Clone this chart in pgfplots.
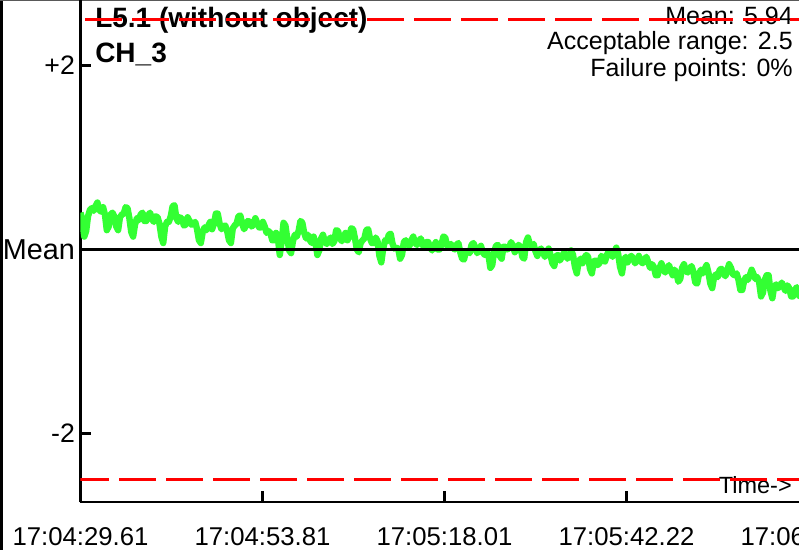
\documentclass[border=0pt]{standalone}
\usepackage{pgfplots}
\pgfplotsset{compat=1.18}
\usepackage{fontspec}
\setmainfont{Liberation Sans}
\definecolor{limeline}{RGB}{51,255,51}
\definecolor{limitred}{RGB}{255,0,0}
\begin{document}
\begin{tikzpicture}[x=0.75pt,y=0.75pt]
\useasboundingbox (0,0) rectangle (799,550);
\clip (0,0) rectangle (799,550);
\fill[white] (0,0) rectangle (799,550);
\fill[black] (0,0) rectangle (3,550);
\draw[black!65, line width=0.9pt] (0,549.4) -- (799,549.4);
% texts (drawn before the axis so the dashed limits pass over them)
\node[anchor=base west, inner sep=0pt, font=\fontsize{21}{25}\selectfont\bfseries] at (95,522) {L5.1 (without object)};
\node[anchor=base west, inner sep=0pt, font=\fontsize{21}{25}\selectfont\bfseries] at (95,487) {CH\_3};
\node[anchor=base east, inner sep=0pt, font=\fontsize{18.75}{22}\selectfont] at (793,525) {Mean: 5.94};
\node[anchor=base east, inner sep=0pt, font=\fontsize{18.75}{22}\selectfont] at (793,500) {Acceptable range: 2.5};
\node[anchor=base east, inner sep=0pt, font=\fontsize{18.75}{22}\selectfont] at (793,473) {Failure points: 0\%};
\node[anchor=base east, inner sep=0pt, font=\fontsize{17.6}{21}\selectfont] at (792,57) {Time->};
\begin{axis}[
  at={(60.375pt,36pt)}, anchor=south west,
  scale only axis, width=564pt, height=376.5pt,
  xmin=0, xmax=100, ymin=-2.745, ymax=2.712,
  axis x line=bottom, axis y line=left,
  axis line style={-, line width=2pt, black},
  tick align=inside, major tick length=8pt,
  every tick/.style={line width=2pt, black},
  xtick={0,24.2,48.4,72.61,96.81},
  xticklabels={17:04:29.61,17:04:53.81,17:05:18.01,17:05:42.22,17:06:06.42},
  ytick={-2,0,2},
  yticklabels={{\fontsize{20}{24}\selectfont -2},{\fontsize{21.6}{26}\selectfont Mean},{\fontsize{20}{24}\selectfont +2}},
  x tick label style={anchor=base, yshift=-32.8pt, inner sep=0pt, font=\fontsize{19.3}{23}\selectfont},
  y tick label style={anchor=east, inner sep=0pt, xshift=-4pt},
  unbounded coords=jump,
  clip=true,
]
\addplot[color=limeline, line width=4.8pt, line join=round] coordinates {
(0,0.40) (0.25,0.32) (0.5,0.14) (0.75,0.20) (1,0.36) (1.25,0.43) (1.5,0.45) (1.75,0.42)
(2,0.47) (2.25,0.51) (2.5,0.43) (2.75,0.41) (3,0.46) (3.25,0.38) (3.5,0.21) (3.75,0.25)
(4,0.38) (4.25,0.40) (4.5,0.36) (4.75,0.25) (5,0.21) (5.25,0.35) (5.5,0.38) (5.75,0.39)
(6,0.46) (6.25,0.45) (6.5,0.34) (6.75,0.19) (7,0.14) (7.25,0.27) (7.5,0.34) (7.75,0.32)
(8,0.38) (8.25,0.40) (8.5,0.31) (8.75,0.31) (9,0.37) (9.25,0.40) (9.5,0.33) (9.75,0.30)
(10,0.36) (10.25,0.35) (10.5,0.28) (10.75,0.14) (11,0.07) (11.25,0.25) (11.5,0.30) (11.75,0.30)
(12,0.36) (12.25,0.47) (12.5,0.48) (12.75,0.34) (13,0.30) (13.25,0.35) (13.5,0.33) (13.75,0.26)
(14,0.27) (14.25,0.35) (14.5,0.31) (14.75,0.27) (15,0.28) (15.25,0.30) (15.5,0.22) (15.75,0.10)
(16,0.07) (16.25,0.19) (16.5,0.24) (16.75,0.21) (17,0.26) (17.25,0.30) (17.5,0.22) (17.75,0.28)
(18,0.39) (18.25,0.39) (18.5,0.28) (18.75,0.22) (19,0.25) (19.25,0.26) (19.5,0.20) (19.75,0.10)
(20,0.07) (20.25,0.23) (20.5,0.26) (20.75,0.28) (21,0.36) (21.25,0.37) (21.5,0.28) (21.75,0.22)
(22,0.26) (22.25,0.31) (22.5,0.30) (22.75,0.25) (23,0.27) (23.25,0.34) (23.5,0.29) (23.75,0.24)
(24,0.24) (24.25,0.30) (24.5,0.25) (24.75,0.18) (25,0.20) (25.25,0.18) (25.5,0.10) (25.75,0.10)
(26,0.18) (26.25,0.12) (26.5,-0.06) (26.75,0.09) (27,0.29) (27.25,0.26) (27.5,0.12) (27.75,-0.01)
(28,-0.04) (28.25,0.09) (28.5,0.16) (28.75,0.14) (29,0.20) (29.25,0.31) (29.5,0.29) (29.75,0.18)
(30,0.12) (30.25,0.16) (30.5,0.10) (30.75,0.07) (31,0.14) (31.25,0.07) (31.5,-0.06) (31.75,-0.01)
(32,0.12) (32.25,0.16) (32.5,0.08) (32.75,0.06) (33,0.10) (33.25,0.13) (33.5,0.06) (33.75,0.09)
(34,0.21) (34.25,0.20) (34.5,0.12) (34.75,0.09) (35,0.14) (35.25,0.18) (35.5,0.10) (35.75,0.14)
(36,0.23) (36.25,0.22) (36.5,0.12) (36.75,0.00) (37,-0.03) (37.25,0.07) (37.5,0.10) (37.75,0.12)
(38,0.21) (38.25,0.22) (38.5,0.12) (38.75,0.07) (39,0.07) (39.25,0.13) (39.5,0.09) (39.75,-0.07)
(40,-0.14) (40.25,0.01) (40.5,0.10) (40.75,0.09) (41,0.16) (41.25,0.17) (41.5,0.06) (41.75,0.01)
(42,0.02) (42.25,0.01) (42.5,-0.10) (42.75,-0.06) (43,0.08) (43.25,0.10) (43.5,0.06) (43.75,0.04)
(44,0.10) (44.25,0.14) (44.5,0.07) (44.75,0.05) (45,0.09) (45.25,0.12) (45.5,0.05) (45.75,0.02)
(46,0.08) (46.25,0.08) (46.5,0.02) (46.75,-0.01) (47,0.04) (47.25,0.08) (47.5,0.00) (47.75,0.00)
(48,0.05) (48.25,0.14) (48.5,0.13) (48.75,0.04) (49,0.04) (49.25,0.06) (49.5,0.02) (49.75,0.00)
(50,0.05) (50.25,0.07) (50.5,-0.03) (50.75,-0.10) (51,-0.11) (51.25,-0.02) (51.5,-0.02) (51.75,-0.04)
(52,0.05) (52.25,0.07) (52.5,0.02) (52.75,-0.04) (53,-0.01) (53.25,0.04) (53.5,-0.03) (53.75,-0.06)
(54,-0.02) (54.25,-0.06) (54.5,-0.20) (54.75,-0.17) (55,-0.03) (55.25,0.04) (55.5,0.05) (55.75,-0.07)
(56,-0.10) (56.25,0.03) (56.5,0.03) (56.75,0.00) (57,0.02) (57.25,0.08) (57.5,0.04) (57.75,-0.03)
(58,0.01) (58.25,0.05) (58.5,0.03) (58.75,-0.08) (59,-0.10) (59.25,0.08) (59.5,0.13) (59.75,0.06)
(60,0.04) (60.25,0.06) (60.5,-0.02) (60.75,-0.07) (61,-0.01) (61.25,0.01) (61.5,-0.03) (61.75,-0.08)
(62,-0.04) (62.25,0.01) (62.5,-0.06) (62.75,-0.15) (63,-0.18) (63.25,-0.07) (63.5,-0.06) (63.75,-0.12)
(64,-0.08) (64.25,-0.04) (64.5,-0.05) (64.75,-0.10) (65,-0.07) (65.25,-0.01) (65.5,-0.06) (65.75,-0.19)
(66,-0.26) (66.25,-0.13) (66.5,-0.10) (66.75,-0.15) (67,-0.09) (67.25,-0.06) (67.5,-0.08) (67.75,-0.21)
(68,-0.26) (68.25,-0.13) (68.5,-0.12) (68.75,-0.17) (69,-0.15) (69.25,-0.07) (69.5,-0.09) (69.75,-0.13)
(70,-0.06) (70.25,-0.02) (70.5,-0.04) (70.75,-0.08) (71,-0.03) (71.25,0.02) (71.5,-0.05) (71.75,-0.19)
(72,-0.26) (72.25,-0.12) (72.5,-0.08) (72.75,-0.14) (73,-0.09) (73.25,-0.07) (73.5,-0.10) (73.75,-0.15)
(74,-0.12) (74.25,-0.07) (74.5,-0.13) (74.75,-0.15) (75,-0.11) (75.25,-0.08) (75.5,-0.14) (75.75,-0.20)
(76,-0.16) (76.25,-0.19) (76.5,-0.28) (76.75,-0.28) (77,-0.20) (77.25,-0.15) (77.5,-0.22) (77.75,-0.25)
(78,-0.21) (78.25,-0.17) (78.5,-0.23) (78.75,-0.28) (79,-0.22) (79.25,-0.26) (79.5,-0.35) (79.75,-0.32)
(80,-0.20) (80.25,-0.16) (80.5,-0.23) (80.75,-0.25) (81,-0.21) (81.25,-0.18) (81.5,-0.24) (81.75,-0.36)
(82,-0.37) (82.25,-0.27) (82.5,-0.22) (82.75,-0.26) (83,-0.21) (83.25,-0.17) (83.5,-0.25) (83.75,-0.37)
(84,-0.42) (84.25,-0.30) (84.5,-0.27) (84.75,-0.30) (85,-0.22) (85.25,-0.21) (85.5,-0.26) (85.75,-0.29)
(86,-0.23) (86.25,-0.16) (86.5,-0.20) (86.75,-0.27) (87,-0.28) (87.25,-0.26) (87.5,-0.33) (87.75,-0.44)
(88,-0.44) (88.25,-0.34) (88.5,-0.30) (88.75,-0.33) (89,-0.28) (89.25,-0.22) (89.5,-0.27) (89.75,-0.32)
(90,-0.30) (90.25,-0.36) (90.5,-0.51) (90.75,-0.47) (91,-0.33) (91.25,-0.28) (91.5,-0.28) (91.75,-0.45)
(92,-0.53) (92.25,-0.40) (92.5,-0.38) (92.75,-0.42) (93,-0.40) (93.25,-0.36) (93.5,-0.41) (93.75,-0.45)
(94,-0.39) (94.25,-0.42) (94.5,-0.51) (94.75,-0.51) (95,-0.44) (95.25,-0.41) (95.5,-0.50) (95.75,-0.51)
(96,-0.47)
};
\addplot[color=black, line width=2.6pt] coordinates {(0,0) (100,0)};
% upper limit (+2.5), drawn as separate dashes
\addplot[color=limitred, line width=1.6pt] coordinates {
(0.6,2.5) (5.5,2.5) (6.2,nan) (6.85,2.5) (11.75,2.5) (12.4,nan) (13.1,2.5) (18.0,2.5) (18.7,nan)
(19.35,2.5) (24.25,2.5) (24.9,nan) (25.6,2.5) (30.5,2.5) (31.2,nan) (31.85,2.5) (36.75,2.5) (37.4,nan)
(38.1,2.5) (43.0,2.5) (43.7,nan) (44.35,2.5) (49.25,2.5) (49.9,nan) (50.6,2.5) (55.5,2.5) (56.2,nan)
(56.85,2.5) (61.75,2.5) (62.4,nan) (63.1,2.5) (68.0,2.5) (68.7,nan) (69.35,2.5) (74.25,2.5) (74.9,nan)
(75.6,2.5) (80.5,2.5) (81.2,nan) (81.85,2.5) (86.75,2.5) (87.4,nan) (88.1,2.5) (93.0,2.5) (93.7,nan)
(94.35,2.5) (99.25,2.5)
};
% lower limit (-2.5), drawn as separate dashes
\addplot[color=limitred, line width=1.6pt] coordinates {
(0,-2.5) (3.79,-2.5) (4.4,nan) (5.12,-2.5) (10.04,-2.5) (10.7,nan) (11.37,-2.5) (16.29,-2.5) (17.0,nan)
(17.62,-2.5) (22.54,-2.5) (23.2,nan) (23.87,-2.5) (28.79,-2.5) (29.5,nan) (30.12,-2.5) (35.04,-2.5) (35.7,nan)
(36.37,-2.5) (41.29,-2.5) (42.0,nan) (42.62,-2.5) (47.54,-2.5) (48.2,nan) (48.87,-2.5) (53.79,-2.5) (54.5,nan)
(55.12,-2.5) (60.04,-2.5) (60.7,nan) (61.37,-2.5) (66.29,-2.5) (67.0,nan) (67.62,-2.5) (72.54,-2.5) (73.2,nan)
(73.87,-2.5) (78.79,-2.5) (79.5,nan) (80.12,-2.5) (85.04,-2.5) (85.7,nan) (86.37,-2.5) (91.29,-2.5) (92.0,nan)
(92.62,-2.5) (97.54,-2.5)
};
\end{axis}
\end{tikzpicture}
\end{document}
